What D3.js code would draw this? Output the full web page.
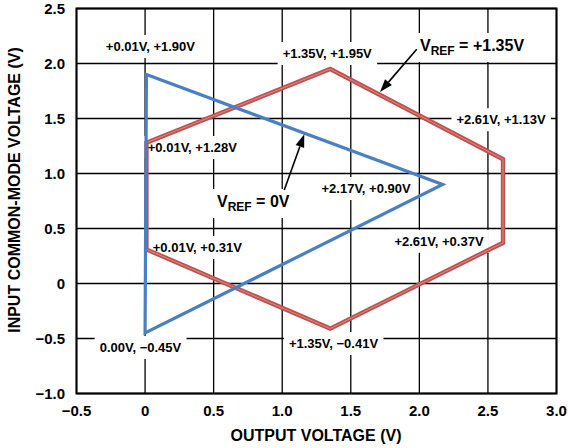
<!DOCTYPE html>
<html><head><meta charset="utf-8">
<script src="https://cdn.jsdelivr.net/npm/d3@7"></script>
<style>body{margin:0;background:#fff}svg{display:block}text{font-family:"Liberation Sans",Arial,sans-serif;font-weight:bold;fill:#000}</style>
</head><body>
<svg id="c" width="568" height="448"></svg>
<script>
// Data
const xTicks = [-0.5, 0, 0.5, 1.0, 1.5, 2.0, 2.5, 3.0];
const xTickLabels = ["\u22120.5", "0", "0.5", "1.0", "1.5", "2.0", "2.5", "3.0"];
const yTicks = [-1.0, -0.5, 0, 0.5, 1.0, 1.5, 2.0, 2.5];
const yTickLabels = ["\u22121.0", "\u22120.5", "0", "0.5", "1.0", "1.5", "2.0", "2.5"];
const vref0X = [0.01, 2.17, 0.00];
const vref0Y = [1.90, 0.90, -0.45];
const vref0Labels = ["+0.01V, +1.90V", "+2.17V, +0.90V", "0.00V, \u22120.45V"];
const vref135X = [0.01, 1.35, 2.61, 2.61, 1.35, 0.01];
const vref135Y = [1.28, 1.95, 1.13, 0.37, -0.41, 0.31];
const vref135Labels = ["+0.01V, +1.28V", "+1.35V, +1.95V", "+2.61V, +1.13V", "+2.61V, +0.37V", "+1.35V, \u22120.41V", "+0.01V, +0.31V"];
const xTitle = "OUTPUT VOLTAGE (V)";
const yTitle = "INPUT COMMON-MODE VOLTAGE (V)";

const svg = d3.select("#c");
const L = 76.5, R = 556.5, T = 8.5, B = 393.5;
const x = d3.scaleLinear().domain([-0.5, 3.0]).range([L, R]);
const y = d3.scaleLinear().domain([-1.0, 2.5]).range([B, T]);

// grid
const g = svg.append("g");
g.selectAll(".vx").data(xTicks).join("line")
  .attr("x1", d => x(d)).attr("x2", d => x(d)).attr("y1", T).attr("y2", B)
  .attr("stroke", "#000").attr("stroke-width", 1.3);
g.selectAll(".hy").data(yTicks).join("line")
  .attr("y1", d => y(d)).attr("y2", d => y(d)).attr("x1", L).attr("x2", R)
  .attr("stroke", "#000").attr("stroke-width", 1.3);

// tick labels
svg.append("g").selectAll("text").data(xTicks).join("text")
  .attr("x", d => x(d)).attr("y", 416).attr("text-anchor", "middle")
  .attr("font-size", 15).text((d, i) => xTickLabels[i]);
svg.append("g").selectAll("text").data(yTicks).join("text")
  .attr("x", 65).attr("y", d => y(d) + 5.5).attr("text-anchor", "end")
  .attr("font-size", 15).text((d, i) => yTickLabels[i]);

svg.append("text").attr("x", 316).attr("y", 441).attr("text-anchor", "middle")
  .attr("font-size", 16).text(xTitle);
svg.append("text").attr("transform", `translate(20,190) rotate(-90)`)
  .attr("text-anchor", "middle").attr("font-size", 16).text(yTitle);

// label layouts (pixel offsets from vertex)
const lay0 = [{dx: 4, dy: -23.5, a: "middle"}, {dx: -76.6, dy: 8.5, a: "middle"}, {dx: -4.6, dy: 19, a: "middle"}];
const lay135 = [{dx: 1.3, dy: 9.3, a: "start"}, {dx: -3, dy: -11, a: "middle"}, {dx: -2, dy: -35, a: "middle"},
  {dx: -64, dy: 3, a: "middle"}, {dx: 3.3, dy: 19.4, a: "middle"}, {dx: 6.3, dy: 2.6, a: "start"}];

const boxLayer = svg.append("g");
const lineLayer = svg.append("g");
const textLayer = svg.append("g");

function addLabel(px, py, txt, anchor) {
  const t = textLayer.append("text").attr("x", px).attr("y", py)
    .attr("text-anchor", anchor).attr("font-size", 13).text(txt);
  const b = t.node().getBBox();
  boxLayer.append("rect").attr("x", b.x - 5).attr("y", b.y - 4)
    .attr("width", b.width + 10).attr("height", b.height + 8).attr("fill", "#fff");
}
vref0X.forEach((v, i) => addLabel(x(v) + lay0[i].dx, y(vref0Y[i]) + lay0[i].dy, vref0Labels[i], lay0[i].a));
vref135X.forEach((v, i) => addLabel(x(v) + lay135[i].dx, y(vref135Y[i]) + lay135[i].dy, vref135Labels[i], lay135[i].a));

function addVref(px, py, val) {
  const t = textLayer.append("text").attr("x", px).attr("y", py).attr("font-size", 16);
  t.append("tspan").text("V");
  t.append("tspan").attr("font-size", 12).attr("dy", 4).text("REF");
  t.append("tspan").attr("dy", -4).text(" = " + val);
  const b = t.node().getBBox();
  boxLayer.append("rect").attr("x", b.x - 4).attr("y", b.y - 4)
    .attr("width", b.width + 8).attr("height", b.height + 8).attr("fill", "#fff");
}
addVref(420, 51, "+1.35V");
addVref(217, 207, "0V");

// data lines
const line = d3.line().x(d => x(d[0])).y(d => y(d[1])).curve(d3.curveLinearClosed);
const redPts = vref135X.map((v, i) => [v, vref135Y[i]]);
const bluePts = vref0X.map((v, i) => [v, vref0Y[i]]);
lineLayer.append("path").attr("d", line(redPts)).attr("fill", "none")
  .attr("stroke", "#c0504d").attr("stroke-width", 4.4).attr("stroke-linejoin", "miter");
lineLayer.append("path").attr("d", line(redPts)).attr("fill", "none")
  .attr("stroke", "#e09a98").attr("stroke-width", 0.8);
lineLayer.append("path").attr("d", line(bluePts)).attr("fill", "none")
  .attr("stroke", "#4a7fc1").attr("stroke-width", 3.2).attr("stroke-linejoin", "miter");

// frame
svg.append("rect").attr("x", L).attr("y", T).attr("width", R - L).attr("height", B - T)
  .attr("fill", "none").attr("stroke", "#000").attr("stroke-width", 2);

// arrows
function arrow(x1, y1, x2, y2) {
  const X1 = x(x1), Y1 = y(y1), X2 = x(x2), Y2 = y(y2);
  const ang = Math.atan2(Y2 - Y1, X2 - X1), len = 13, w = 4.5;
  const bx = X2 - len * Math.cos(ang), by = Y2 - len * Math.sin(ang);
  svg.append("line").attr("x1", X1).attr("y1", Y1).attr("x2", bx).attr("y2", by)
    .attr("stroke", "#000").attr("stroke-width", 1.6);
  const px = -Math.sin(ang) * w, py = Math.cos(ang) * w;
  svg.append("path").attr("d", `M${X2},${Y2}L${bx + px},${by + py}L${bx - px},${by - py}Z`).attr("fill", "#000");
}
arrow(1.981, 2.129, 1.713, 1.741);
arrow(1.015, 0.85, 1.161, 1.356);
</script>
</body></html>
